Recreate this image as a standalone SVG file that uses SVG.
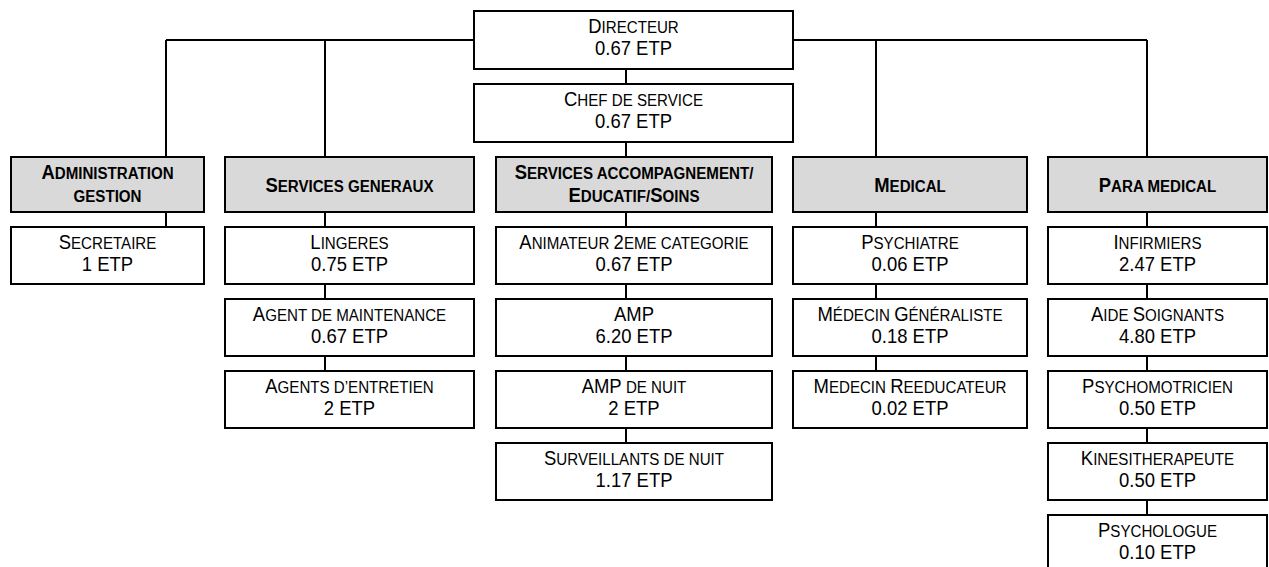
<svg xmlns="http://www.w3.org/2000/svg" width="1269" height="567" viewBox="0 0 1269 567">
  <style>
    .box { fill: #ffffff; stroke: #000000; stroke-width: 2; }
    .hdr { fill: #d9d9d9; stroke: #000000; stroke-width: 2; }
    .link { fill: none; stroke: #000000; stroke-width: 2; }
    text { font-family: "Liberation Sans", Arial, sans-serif; font-size: 20.5px; text-anchor: middle; fill: #000000; }
    .b { font-weight: bold; }
    .sc { font-size: 16.8px; }
  </style>
  <rect width="1269" height="567" fill="#ffffff"/>

  <!-- connectors -->
  <g id="connectors">
    <path class="link" d="M166 40 H1147"/>
    <path class="link" d="M166 40 V157 M325 40 V157 M876 40 V157 M1147 40 V157"/>
    <path class="link" d="M626 69 V84 M626 142 V157"/>
    <path class="link" d="M166 212 V227"/>
    <path class="link" d="M325 212 V227 M325 284 V299 M325 356 V371"/>
    <path class="link" d="M626 212 V227 M626 284 V299 M626 356 V371 M626 428 V443"/>
    <path class="link" d="M876 212 V227 M876 284 V299 M876 356 V371"/>
    <path class="link" d="M1147 212 V227 M1147 284 V299 M1147 356 V371 M1147 428 V443 M1147 500 V515"/>
  </g>

  <!-- top management (text condensed horizontally to 90%) -->
  <g id="directeur">
    <rect class="box" x="474" y="11" width="319" height="58"/>
    <text transform="translate(633.5 33) scale(0.9 1)">D<tspan class="sc">IRECTEUR</tspan></text>
    <text transform="translate(633.5 55) scale(0.9 1)">0.67 ETP</text>
  </g>
  <g id="chef-service">
    <rect class="box" x="474" y="84" width="319" height="58"/>
    <text transform="translate(633.5 106) scale(0.9 1)">C<tspan class="sc">HEF DE SERVICE</tspan></text>
    <text transform="translate(633.5 128) scale(0.9 1)">0.67 ETP</text>
  </g>

  <!-- department headers -->
  <g id="administration">
    <rect class="hdr" x="11" y="157" width="193" height="55"/>
    <text class="b" transform="translate(107.5 179) scale(0.9 1)">A<tspan class="sc">DMINISTRATION</tspan></text>
    <text class="b" transform="translate(107.5 202) scale(0.9 1)"><tspan class="sc">GESTION</tspan></text>
  </g>
  <g id="services-generaux">
    <rect class="hdr" x="225" y="157" width="249" height="55"/>
    <text class="b" transform="translate(349.5 192) scale(0.9 1)">S<tspan class="sc">ERVICES GENERAUX</tspan></text>
  </g>
  <g id="services-accompagnement">
    <rect class="hdr" x="496" y="157" width="276" height="55"/>
    <text class="b" transform="translate(634 179) scale(0.9 1)">S<tspan class="sc">ERVICES ACCOMPAGNEMENT/</tspan></text>
    <text class="b" transform="translate(634 202) scale(0.9 1)">E<tspan class="sc">DUCATIF/</tspan>S<tspan class="sc">OINS</tspan></text>
  </g>
  <g id="medical">
    <rect class="hdr" x="793" y="157" width="234" height="55"/>
    <text class="b" transform="translate(910 192) scale(0.9 1)">M<tspan class="sc">EDICAL</tspan></text>
  </g>
  <g id="para-medical">
    <rect class="hdr" x="1048" y="157" width="219" height="55"/>
    <text class="b" transform="translate(1157.5 192) scale(0.9 1)">P<tspan class="sc">ARA MEDICAL</tspan></text>
  </g>

  <!-- administration staff -->
  <g id="secretaire">
    <rect class="box" x="11" y="227" width="193" height="57"/>
    <text transform="translate(107.5 249) scale(0.9 1)">S<tspan class="sc">ECRETAIRE</tspan></text>
    <text transform="translate(107.5 271) scale(0.9 1)">1 ETP</text>
  </g>

  <!-- general services staff -->
  <g id="lingeres">
    <rect class="box" x="225" y="227" width="249" height="57"/>
    <text transform="translate(349.5 249) scale(0.9 1)">L<tspan class="sc">INGERES</tspan></text>
    <text transform="translate(349.5 271) scale(0.9 1)">0.75 ETP</text>
  </g>
  <g id="agent-maintenance">
    <rect class="box" x="225" y="299" width="249" height="57"/>
    <text transform="translate(349.5 321) scale(0.9 1)">A<tspan class="sc">GENT DE MAINTENANCE</tspan></text>
    <text transform="translate(349.5 343) scale(0.9 1)">0.67 ETP</text>
  </g>
  <g id="agents-entretien">
    <rect class="box" x="225" y="371" width="249" height="57"/>
    <text transform="translate(349.5 393) scale(0.9 1)">A<tspan class="sc">GENTS D’ENTRETIEN</tspan></text>
    <text transform="translate(349.5 415) scale(0.9 1)">2 ETP</text>
  </g>

  <!-- educational / care staff -->
  <g id="animateur">
    <rect class="box" x="496" y="227" width="276" height="57"/>
    <text transform="translate(634 249) scale(0.9 1)">A<tspan class="sc">NIMATEUR </tspan>2<tspan class="sc">EME CATEGORIE</tspan></text>
    <text transform="translate(634 271) scale(0.9 1)">0.67 ETP</text>
  </g>
  <g id="amp">
    <rect class="box" x="496" y="299" width="276" height="57"/>
    <text transform="translate(634 321) scale(0.9 1)">AMP</text>
    <text transform="translate(634 343) scale(0.9 1)">6.20 ETP</text>
  </g>
  <g id="amp-nuit">
    <rect class="box" x="496" y="371" width="276" height="57"/>
    <text transform="translate(634 393) scale(0.9 1)">AMP<tspan class="sc"> DE NUIT</tspan></text>
    <text transform="translate(634 415) scale(0.9 1)">2 ETP</text>
  </g>
  <g id="surveillants-nuit">
    <rect class="box" x="496" y="443" width="276" height="57"/>
    <text transform="translate(634 465) scale(0.9 1)">S<tspan class="sc">URVEILLANTS DE NUIT</tspan></text>
    <text transform="translate(634 487) scale(0.9 1)">1.17 ETP</text>
  </g>

  <!-- medical staff -->
  <g id="psychiatre">
    <rect class="box" x="793" y="227" width="234" height="57"/>
    <text transform="translate(910 249) scale(0.9 1)">P<tspan class="sc">SYCHIATRE</tspan></text>
    <text transform="translate(910 271) scale(0.9 1)">0.06 ETP</text>
  </g>
  <g id="medecin-generaliste">
    <rect class="box" x="793" y="299" width="234" height="57"/>
    <text transform="translate(910 321) scale(0.9 1)">M<tspan class="sc">ÉDECIN </tspan>G<tspan class="sc">ÉNÉRALISTE</tspan></text>
    <text transform="translate(910 343) scale(0.9 1)">0.18 ETP</text>
  </g>
  <g id="medecin-reeducateur">
    <rect class="box" x="793" y="371" width="234" height="57"/>
    <text transform="translate(910 393) scale(0.9 1)">M<tspan class="sc">EDECIN </tspan>R<tspan class="sc">EEDUCATEUR</tspan></text>
    <text transform="translate(910 415) scale(0.9 1)">0.02 ETP</text>
  </g>

  <!-- paramedical staff -->
  <g id="infirmiers">
    <rect class="box" x="1048" y="227" width="219" height="57"/>
    <text transform="translate(1157.5 249) scale(0.9 1)">I<tspan class="sc">NFIRMIERS</tspan></text>
    <text transform="translate(1157.5 271) scale(0.9 1)">2.47 ETP</text>
  </g>
  <g id="aide-soignants">
    <rect class="box" x="1048" y="299" width="219" height="57"/>
    <text transform="translate(1157.5 321) scale(0.9 1)">A<tspan class="sc">IDE </tspan>S<tspan class="sc">OIGNANTS</tspan></text>
    <text transform="translate(1157.5 343) scale(0.9 1)">4.80 ETP</text>
  </g>
  <g id="psychomotricien">
    <rect class="box" x="1048" y="371" width="219" height="57"/>
    <text transform="translate(1157.5 393) scale(0.9 1)">P<tspan class="sc">SYCHOMOTRICIEN</tspan></text>
    <text transform="translate(1157.5 415) scale(0.9 1)">0.50 ETP</text>
  </g>
  <g id="kinesitherapeute">
    <rect class="box" x="1048" y="443" width="219" height="57"/>
    <text transform="translate(1157.5 465) scale(0.9 1)">K<tspan class="sc">INESITHERAPEUTE</tspan></text>
    <text transform="translate(1157.5 487) scale(0.9 1)">0.50 ETP</text>
  </g>
  <g id="psychologue">
    <rect class="box" x="1048" y="515" width="219" height="60"/>
    <text transform="translate(1157.5 537) scale(0.9 1)">P<tspan class="sc">SYCHOLOGUE</tspan></text>
    <text transform="translate(1157.5 559) scale(0.9 1)">0.10 ETP</text>
  </g>
</svg>
